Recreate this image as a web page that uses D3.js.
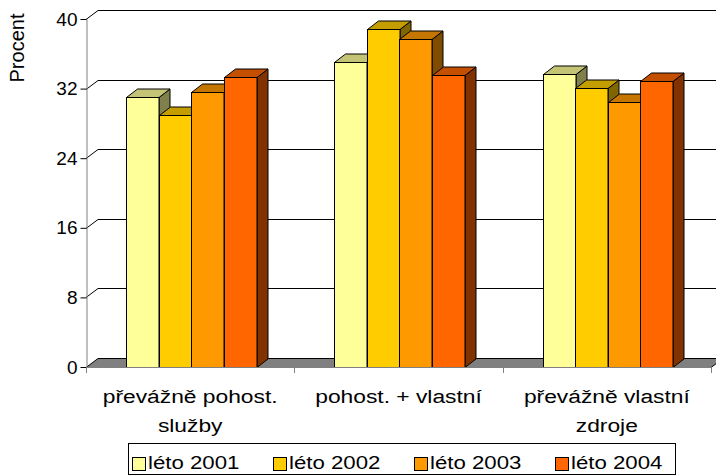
<!DOCTYPE html>
<meta charset="utf-8">
<head>
  <script src="https://d3js.org/d3.v7.min.js"></script>
  <style>
    body { margin: 0; background: #fff; }
    svg { display: block; }
    text { font-family: "Liberation Sans", Arial, sans-serif; fill: #000; }
  </style>
</head>
<body>
<div id="chart"></div>
<script>

// data
var categories = ["převážně pohost. služby", "pohost. + vlastní", "převážně vlastní zdroje"];
var categoryLines = [["převážně pohost.", "služby"], ["pohost. + vlastní"], ["převážně vlastní", "zdroje"]];
var series = ["léto 2001", "léto 2002", "léto 2003", "léto 2004"];
var leto2001 = [31.0, 35.1, 33.7];
var leto2002 = [29.0, 38.9, 32.1];
var leto2003 = [31.6, 37.7, 30.5];
var leto2004 = [33.3, 33.6, 32.9];
var yTicks = [0, 8, 16, 24, 32, 40];

var values = [leto2001, leto2002, leto2003, leto2004];
var colors = ["#FFFF99", "#FFCC00", "#FF9900", "#FF6600"];

var width = 716, height = 475;
var plotLeft = 86, plotRight = 711, plotBottom = 367, plotTop = 19;
var depthX = 12, depthY = -9;      // wall depth
var barDX = 11, barDY = -8.5;      // bar depth

var svg = d3.select("#chart").append("svg")
  .attr("width", width)
  .attr("height", height);

var y = d3.scaleLinear().domain([0, 40]).range([plotBottom, plotTop]);
var x0 = d3.scaleBand().domain(categories).range([plotLeft, plotRight]);
var x1 = d3.scaleBand().domain(series).range([40, 170]);

function shade(c, k) {
  var r = d3.rgb(c);
  return d3.rgb(r.r * k, r.g * k, r.b * k).formatHex();
}

// back wall gridlines + left wall diagonals
yTicks.forEach(function (t) {
  if (t === 0) return;
  var yy = Math.round(y(t)) + 0.5;
  svg.append("path")
    .attr("d", "M" + plotLeft + "," + yy + "L" + (plotLeft + depthX) + "," + (yy + depthY) + "L" + (plotRight + depthX) + "," + (yy + depthY))
    .attr("fill", "none")
    .attr("stroke", "#000")
    .attr("stroke-width", 1);
});

// floor
var fb = plotBottom + 0.5;
svg.append("path")
  .attr("d", "M" + plotLeft + "," + fb + "L" + (plotLeft + depthX) + "," + (fb + depthY) + "L" + (plotRight + depthX) + "," + (fb + depthY) + "L" + plotRight + "," + fb + "Z")
  .attr("fill", "#808080")
  .attr("stroke", "#000")
  .attr("stroke-width", 1);

// bars
categories.forEach(function (c, ci) {
  series.forEach(function (s, si) {
    var v = values[si][ci];
    var bx = Math.round(x0(c) + x1(s)) + 0.5, bw = x1.bandwidth();
    var by = Math.round(y(v)) + 0.5, bb = y(0) + 0.5;
    var g = svg.append("g");
    // side
    g.append("path")
      .attr("d", "M" + (bx + bw) + "," + bb + "L" + (bx + bw + barDX) + "," + (bb + barDY) + "L" + (bx + bw + barDX) + "," + (by + barDY) + "L" + (bx + bw) + "," + by + "Z")
      .attr("fill", shade(colors[si], 0.5))
      .attr("stroke", "#000").attr("stroke-width", 1).attr("stroke-linejoin", "round");
    // top
    g.append("path")
      .attr("d", "M" + bx + "," + by + "L" + (bx + barDX) + "," + (by + barDY) + "L" + (bx + bw + barDX) + "," + (by + barDY) + "L" + (bx + bw) + "," + by + "Z")
      .attr("fill", shade(colors[si], 0.77))
      .attr("stroke", "#000").attr("stroke-width", 1).attr("stroke-linejoin", "round");
    // front
    g.append("rect")
      .attr("x", bx).attr("y", by)
      .attr("width", bw).attr("height", bb - by)
      .attr("fill", colors[si])
      .attr("stroke", "#000").attr("stroke-width", 1);
  });
});

// y axis
var yAxis = svg.append("g")
  .attr("transform", "translate(" + (plotLeft + 0.5) + ",0)")
  .call(d3.axisLeft(y).tickValues(yTicks).tickSize(6).tickSizeOuter(0).tickPadding(3));
yAxis.select(".domain").attr("stroke", "#808080");
yAxis.selectAll(".tick line").attr("stroke", "#000");
yAxis.selectAll(".tick text")
  .style("font-family", "Liberation Sans, Arial, sans-serif")
  .style("font-size", "19px")
  .attr("fill", "#000");

// x axis line + category ticks
svg.append("line")
  .attr("x1", plotLeft).attr("x2", plotRight)
  .attr("y1", plotBottom + 0.5).attr("y2", plotBottom + 0.5)
  .attr("stroke", "#808080");
var bounds = categories.map(function (c) { return x0(c); }).concat([plotRight]);
bounds.forEach(function (b) {
  var bx = Math.round(b) + 0.5;
  svg.append("line")
    .attr("x1", bx).attr("x2", bx)
    .attr("y1", plotBottom).attr("y2", plotBottom + 6)
    .attr("stroke", "#808080");
});

// category labels
categories.forEach(function (c, ci) {
  var cx = x0(c) + x0.bandwidth() / 2;
  categoryLines[ci].forEach(function (line, li) {
    svg.append("text")
      .attr("transform", "translate(" + cx + "," + (403 + li * 29) + ") scale(1.2,1)")
      .attr("text-anchor", "middle")
      .style("font-size", "19px")
      .text(line);
  });
});

// y title
svg.append("text")
  .attr("transform", "translate(24,48) rotate(-90)")
  .attr("text-anchor", "middle")
  .style("font-size", "20px")
  .text("Procent");

// legend
svg.append("rect")
  .attr("x", 128.5).attr("y", 443.5)
  .attr("width", 547).attr("height", 31)
  .attr("fill", "#fff")
  .attr("stroke", "#000");
series.forEach(function (s, si) {
  var lx = 132 + si * 141;
  svg.append("rect")
    .attr("x", lx + 0.5).attr("y", 457.5)
    .attr("width", 13).attr("height", 13)
    .attr("fill", colors[si])
    .attr("stroke", "#000");
  svg.append("text")
    .attr("transform", "translate(" + (lx + 16) + ",469) scale(1.17,1)")
    .style("font-size", "19px")
    .text(s);
});

</script>
</body>
